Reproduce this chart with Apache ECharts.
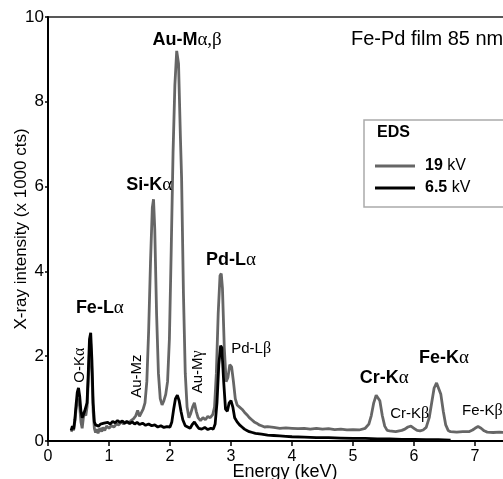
<!DOCTYPE html>
<html>
<head>
<meta charset="utf-8">
<script src="https://cdn.jsdelivr.net/npm/echarts@6/dist/echarts.min.js"></script>
<style>
  html, body { margin: 0; padding: 0; background: #fff; }
  #chart { width: 503px; height: 479px; }
</style>
</head>
<body>
<div id="chart"></div>
<script>
// 19 kV spectrum (energy keV, intensity x1000 cts)
const kv19Energy = [0.38,0.40,0.42,0.44,0.46,0.48,0.50,0.52,0.54,0.56,0.58,0.60,0.62,0.64,0.66,0.68,0.70,0.72,0.74,0.76,0.78,0.80,0.82,0.85,0.88,0.90,0.93,0.96,1.00,1.04,1.08,1.12,1.16,1.20,1.24,1.28,1.32,1.36,1.40,1.44,1.47,1.50,1.53,1.56,1.59,1.62,1.65,1.68,1.71,1.73,1.75,1.78,1.81,1.84,1.87,1.90,1.93,1.96,1.99,2.02,2.05,2.08,2.11,2.14,2.17,2.19,2.22,2.25,2.28,2.31,2.34,2.37,2.40,2.43,2.46,2.50,2.54,2.58,2.62,2.66,2.70,2.73,2.76,2.79,2.82,2.84,2.86,2.89,2.92,2.95,2.98,3.01,3.04,3.07,3.10,3.14,3.18,3.22,3.26,3.30,3.34,3.38,3.42,3.46,3.50,3.55,3.60,3.70,3.80,3.90,4.00,4.10,4.20,4.30,4.40,4.50,4.60,4.70,4.80,4.90,5.00,5.10,5.20,5.26,5.30,5.34,5.38,5.41,5.44,5.48,5.52,5.56,5.60,5.70,5.80,5.85,5.90,5.95,6.00,6.05,6.10,6.15,6.20,6.25,6.29,6.33,6.37,6.40,6.44,6.48,6.52,6.56,6.60,6.70,6.80,6.90,6.96,7.00,7.05,7.10,7.15,7.20,7.30,7.40,7.50,7.60,7.80,8.00];
const kv19Counts = [0.22,0.30,0.25,0.45,0.75,0.95,1.00,0.80,0.45,0.30,0.55,0.65,0.60,0.80,1.40,2.10,2.30,1.60,0.70,0.30,0.20,0.28,0.18,0.30,0.22,0.32,0.25,0.35,0.30,0.36,0.33,0.40,0.38,0.45,0.40,0.46,0.42,0.48,0.52,0.60,0.72,0.58,0.62,0.75,0.90,1.40,2.60,4.20,5.50,5.70,5.00,3.00,1.60,1.00,0.85,0.95,1.10,1.40,2.40,4.50,6.80,8.40,9.20,8.90,7.20,6.20,3.50,1.60,0.80,0.55,0.65,0.80,0.90,0.70,0.55,0.48,0.55,0.50,0.58,0.55,0.62,0.80,1.60,3.00,3.90,3.95,3.60,2.20,1.40,1.50,1.80,1.75,1.40,1.00,0.85,0.80,0.75,0.68,0.62,0.55,0.50,0.45,0.42,0.38,0.36,0.33,0.34,0.32,0.30,0.31,0.30,0.29,0.30,0.28,0.30,0.28,0.29,0.27,0.28,0.26,0.27,0.26,0.30,0.40,0.60,0.90,1.08,1.10,0.95,0.60,0.35,0.25,0.24,0.22,0.25,0.28,0.33,0.35,0.30,0.25,0.24,0.26,0.32,0.55,0.90,1.25,1.37,1.35,1.10,0.70,0.38,0.25,0.22,0.21,0.22,0.22,0.26,0.30,0.34,0.30,0.24,0.21,0.20,0.21,0.20,0.20,0.20,0.19];

// 6.5 kV spectrum
const kv65Energy = [0.38,0.40,0.42,0.44,0.46,0.48,0.50,0.52,0.54,0.56,0.58,0.60,0.62,0.64,0.66,0.68,0.70,0.72,0.74,0.76,0.78,0.80,0.83,0.86,0.89,0.92,0.95,0.98,1.02,1.06,1.10,1.14,1.18,1.22,1.26,1.30,1.34,1.38,1.42,1.46,1.50,1.55,1.60,1.65,1.70,1.75,1.80,1.85,1.90,1.95,2.00,2.03,2.06,2.09,2.12,2.15,2.18,2.21,2.25,2.29,2.33,2.37,2.40,2.43,2.47,2.52,2.57,2.62,2.67,2.71,2.74,2.77,2.80,2.83,2.85,2.88,2.91,2.94,2.97,3.00,3.03,3.06,3.10,3.14,3.18,3.22,3.26,3.30,3.35,3.40,3.50,3.60,3.70,3.80,3.90,4.00,4.20,4.40,4.60,4.80,5.00,5.20,5.40,5.60,5.80,6.00,6.20,6.40,6.60];
const kv65Counts = [0.25,0.35,0.28,0.50,0.85,1.15,1.25,1.05,0.70,0.55,0.62,0.70,0.68,0.90,1.60,2.40,2.55,1.90,0.90,0.45,0.38,0.42,0.35,0.40,0.36,0.42,0.38,0.44,0.40,0.46,0.43,0.48,0.44,0.47,0.42,0.46,0.41,0.45,0.40,0.44,0.39,0.42,0.37,0.40,0.36,0.38,0.33,0.36,0.32,0.34,0.33,0.45,0.75,1.00,1.08,0.95,0.70,0.50,0.36,0.33,0.30,0.40,0.45,0.38,0.30,0.28,0.32,0.27,0.30,0.28,0.40,0.90,1.80,2.25,2.20,1.40,0.75,0.70,0.90,0.95,0.80,0.55,0.45,0.38,0.33,0.28,0.25,0.22,0.20,0.18,0.16,0.14,0.13,0.12,0.11,0.10,0.09,0.08,0.08,0.07,0.06,0.06,0.05,0.05,0.04,0.04,0.03,0.03,0.02];

// peak annotations: [energy, intensity, text, rotate]
const peakLabels = [
  [2.28, 9.46, '{b|Au-M}{gb|α,β}', 0],
  [1.66, 6.04, '{b|Si-K}{gb|α}', 0],
  [3.00, 4.27, '{b|Pd-L}{gb|α}', 0],
  [0.85, 3.14, '{b|Fe-L}{gb|α}', 0],
  [3.33, 2.17, '{n|Pd-L}{g|β}', 0],
  [0.52, 1.79, '{n|O-K}{g|α}', 90],
  [1.46, 1.53, '{n|Au-Mz}', 90],
  [2.46, 1.63, '{n|Au-M}{g|γ}', 90],
  [5.51, 1.49, '{b|Cr-K}{gb|α}', 0],
  [5.93, 0.64, '{n|Cr-K}{g|β}', 0],
  [6.49, 1.96, '{b|Fe-K}{gb|α}', 0],
  [7.12, 0.71, '{n|Fe-K}{g|β}', 0]
];

const xTicks = [0, 1, 2, 3, 4, 5, 6, 7, 8];
const yTicks = [0, 2, 4, 6, 8, 10];

const zip = (a, b) => a.map((v, i) => [v, b[i]]);
const sans = 'Liberation Sans, Arial, sans-serif';
const serif = 'Liberation Serif, DejaVu Serif, serif';

const rich = {
  b: { fontFamily: sans, fontWeight: 'bold', fontSize: 18, color: '#000' },
  gb: { fontFamily: serif, fontSize: 19, color: '#000' },
  n: { fontFamily: sans, fontSize: 15, color: '#000' },
  g: { fontFamily: serif, fontSize: 16, color: '#000' }
};

const chart = echarts.init(document.getElementById('chart'));
chart.setOption({
  animation: false,
  backgroundColor: '#fff',
  title: {
    text: 'Fe-Pd film 85 nm',
    left: 351, top: 29, padding: 0,
    textStyle: { fontFamily: sans, fontWeight: 'normal', fontSize: 20, color: '#000' }
  },
  grid: {
    left: 48, top: 17, width: 8 * 61, height: 424,
    outerBoundsMode: 'none', containLabel: false,
    show: true, borderColor: '#222', borderWidth: 1.5
  },
  legend: {
    left: 375, top: 158, orient: 'vertical', padding: 0,
    itemWidth: 40, itemHeight: 3, itemGap: 6,
    icon: 'rect',
    data: ['19 kV', '6.5 kV'],
    formatter: name => '{b|' + name.split(' ')[0] + '} kV',
    textStyle: {
      fontFamily: sans, fontSize: 16, color: '#000', padding: [0, 0, 0, 5],
      rich: { b: { fontFamily: sans, fontSize: 16, fontWeight: 'bold', color: '#000' } }
    }
  },
  graphic: [
    { type: 'rect', shape: { x: 364, y: 120, width: 170, height: 87 },
      style: { fill: 'none', stroke: '#aaa', lineWidth: 1.5 }, z: 100 },
    { type: 'text', x: 377, y: 125,
      style: { text: 'EDS', font: 'bold 16px ' + sans, fill: '#000' }, z: 100 }
  ],
  xAxis: {
    type: 'value', min: xTicks[0], max: xTicks[xTicks.length - 1], interval: 1,
    name: 'Energy (keV)', nameLocation: 'middle', nameGap: 22, nameMoveOverlap: false,
    nameTextStyle: { fontFamily: sans, fontSize: 18, color: '#000', padding: [0, 14, 0, 0] },
    axisLine: { lineStyle: { color: '#000', width: 2 } },
    axisTick: { length: 5, lineStyle: { color: '#000', width: 1.5 } },
    axisLabel: { fontFamily: sans, fontSize: 16, color: '#000', margin: 8 },
    splitLine: { show: false }
  },
  yAxis: {
    type: 'value', min: yTicks[0], max: yTicks[yTicks.length - 1], interval: 2,
    name: 'X-ray intensity (x 1000 cts)', nameLocation: 'middle', nameGap: 18, nameMoveOverlap: false,
    nameTextStyle: { fontFamily: sans, fontSize: 17, color: '#000' },
    axisLine: { show: true, lineStyle: { color: '#000', width: 2 } },
    axisTick: { show: true, length: 3, lineStyle: { color: '#000', width: 1.5 } },
    axisLabel: { fontFamily: sans, fontSize: 17, color: '#000', margin: 4 },
    splitLine: { show: false }
  },
  series: [
    {
      name: '19 kV', type: 'line', data: zip(kv19Energy, kv19Counts),
      showSymbol: false, smooth: false,
      lineStyle: { color: '#666', width: 2.8 }, itemStyle: { color: '#666' }
    },
    {
      name: '6.5 kV', type: 'line', data: zip(kv65Energy, kv65Counts),
      showSymbol: false,
      lineStyle: { color: '#000', width: 2.8 }, itemStyle: { color: '#000' },
      markPoint: {
        silent: true, symbol: 'circle', symbolSize: 0,
        data: peakLabels.map(p => ({
          coord: [p[0], p[1]],
          label: { show: true, position: 'inside', formatter: p[2], rotate: p[3], rich: rich }
        }))
      }
    }
  ]
});
</script>
</body>
</html>
